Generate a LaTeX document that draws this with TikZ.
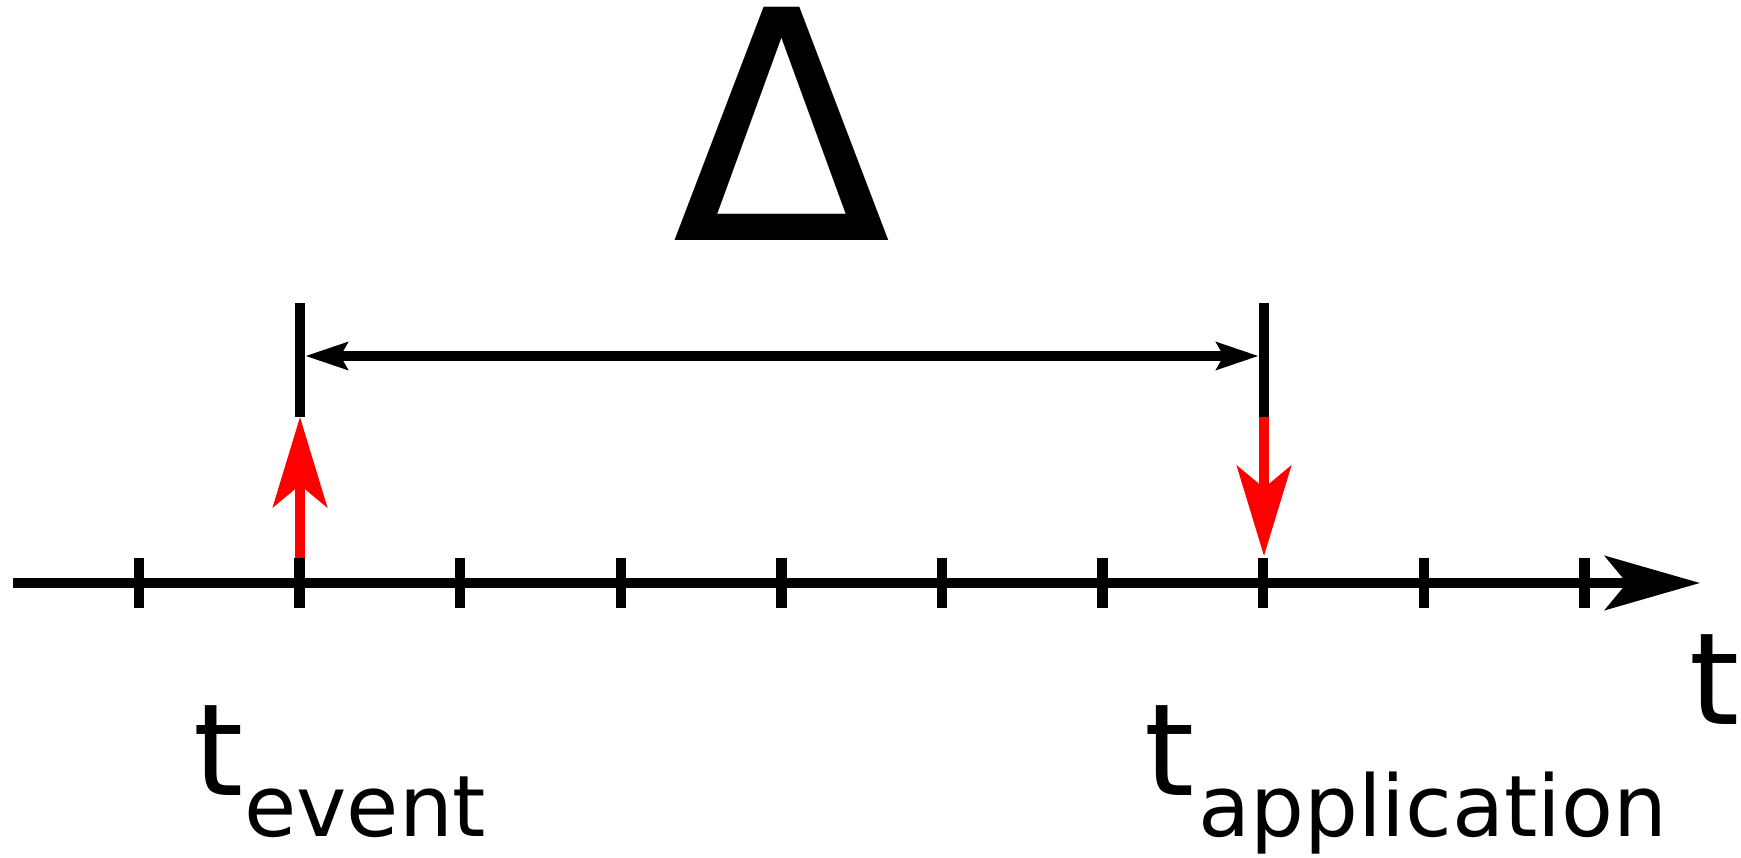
\documentclass[tikz,border=0pt]{standalone}
\usepackage{fontspec}
\setmainfont{DejaVu Sans}
\usetikzlibrary{arrows.meta}
\begin{document}
\begin{tikzpicture}[x=1pt,y=-1pt,
  axisline/.style={draw=black, line width=10pt, -{Stealth[length=95pt,width=54pt,inset=22pt]}},
  tickmark/.style={draw=black, line width=10.5pt},
  dimarrow/.style={draw=black, line width=10.5pt, {Stealth[length=42pt,width=27pt,inset=7pt]}-{Stealth[length=42pt,width=27pt,inset=7pt]}},
  redarrow/.style={draw=red, line width=10.5pt, -{Stealth[length=90pt,width=54pt,inset=22pt]}},
  bigfont/.style={font=\fontsize{128}{128}\selectfont},
  lbl/.style={inner sep=0pt, outer sep=0pt}]
\useasboundingbox (0,0) rectangle (1741,858);
% coordinates
\coordinate (axstart) at (13,583);
\coordinate (axend) at (1700,583);
\coordinate (evtop) at (300,303);
\coordinate (evmid) at (300,356);
\coordinate (evbot) at (300,417);
\coordinate (evaxis) at (300,558);
\coordinate (aptop) at (1264,303);
\coordinate (apmid) at (1264,356);
\coordinate (apbot) at (1264,417);
\coordinate (apaxis) at (1264,556);
% axis
\draw[axisline] (axstart) -- (axend);
\foreach \i in {0,...,9} {
  \coordinate (tickt\i) at ({139+160.6*\i},558);
  \coordinate (tickb\i) at ({139+160.6*\i},608);
  \draw[tickmark] (tickt\i) -- (tickb\i);
}
% bars
\draw[tickmark] (evtop) -- (evbot);
\draw[tickmark] (aptop) -- (apbot);
% dimension arrow
\draw[dimarrow, shorten <=5.25pt, shorten >=5.25pt] (evmid) -- (apmid);
% red arrows
\draw[redarrow] (evaxis) -- (evbot);
\draw[redarrow] (apbot) -- (apaxis);
% labels
\node[lbl, anchor=base, font=\fontsize{320}{320}\selectfont] (delta) at (782,241) {Δ};
\node[lbl, anchor=base west] (tev) at (193,795) {\fontsize{128}{128}\selectfont t\kern1pt\raisebox{-41pt}{\fontsize{85}{85}\selectfont event}};
\node[lbl, anchor=base west] (tap) at (1144,795) {\fontsize{128}{128}\selectfont t\kern4pt\raisebox{-41pt}{\fontsize{85}{85}\selectfont application}};
\node[lbl, anchor=base west, bigfont] (taxis) at (1689,724) {t};
\end{tikzpicture}
\end{document}
